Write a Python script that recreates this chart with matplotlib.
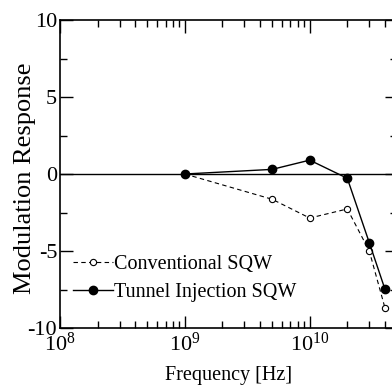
import numpy as np
import matplotlib
matplotlib.use("Agg")
import matplotlib.pyplot as plt
from matplotlib.ticker import LogLocator, MultipleLocator

plt.rcParams['font.family'] = ['Liberation Serif', 'DejaVu Serif']
plt.rcParams['mathtext.fontset'] = 'custom'
plt.rcParams['mathtext.rm'] = 'Liberation Serif'
plt.rcParams['mathtext.it'] = 'Liberation Serif:italic'
plt.rcParams['axes.unicode_minus'] = False

# data
freq = [1e9, 5e9, 1e10, 2e10, 3e10, 4e10]
conventional = [0.0, -1.64, -2.86, -2.27, -5.0, -8.68]
tunnel = [0.0, 0.3, 0.9, -0.28, -4.46, -7.47]
labels = ["Conventional SQW", "Tunnel Injection SQW"]

W, H = 392, 388
fig = plt.figure(figsize=(W / 100, H / 100), dpi=100)
# axes run a bit past the right edge of the picture, as in the reference
ax = fig.add_axes([60 / W, (H - 328) / H, 337 / W, 308 / H])

ax.axhline(0, color="black", lw=1.0, zorder=1)
ax.plot(freq, conventional, ls=(0, (4, 3)), color="black", lw=0.8,
        marker="o", ms=4.5, mfc="white", mec="black", mew=0.8, label=labels[0])
ax.plot(freq, tunnel, ls="-", color="black", lw=1.0,
        marker="o", ms=6, mfc="black", mec="black", label=labels[1])

ax.set_xscale("log")
ax.set_xlim(1e8, 5e10)
ax.set_ylim(-10, 10)
ax.yaxis.set_major_locator(MultipleLocator(5))
ax.yaxis.set_minor_locator(MultipleLocator(2.5))
ax.xaxis.set_major_locator(LogLocator(base=10, numticks=10))
ax.xaxis.set_minor_locator(LogLocator(base=10, subs=np.arange(2, 10), numticks=20))

ax.tick_params(which="both", direction="in", top=True, right=True, width=1.0)
ax.tick_params(which="major", length=9, labelsize=16, pad=2)
ax.tick_params(axis="x", which="major", pad=3)
ax.tick_params(which="minor", length=5)
for sp in ax.spines.values():
    sp.set_linewidth(1.2)

ax.set_xlabel("Frequency [Hz]", fontsize=14.5, labelpad=8)
ax.set_ylabel("Modulation Response", fontsize=19)
ax.yaxis.set_label_coords(-0.072, 0.485)

ax.legend(loc="upper left", bbox_to_anchor=(0.038, 0.238), frameon=False,
          fontsize=14.5, handlelength=2.0, handletextpad=0.05, labelspacing=0.45,
          borderpad=0, borderaxespad=0)

fig.savefig("out.png", dpi=100)
